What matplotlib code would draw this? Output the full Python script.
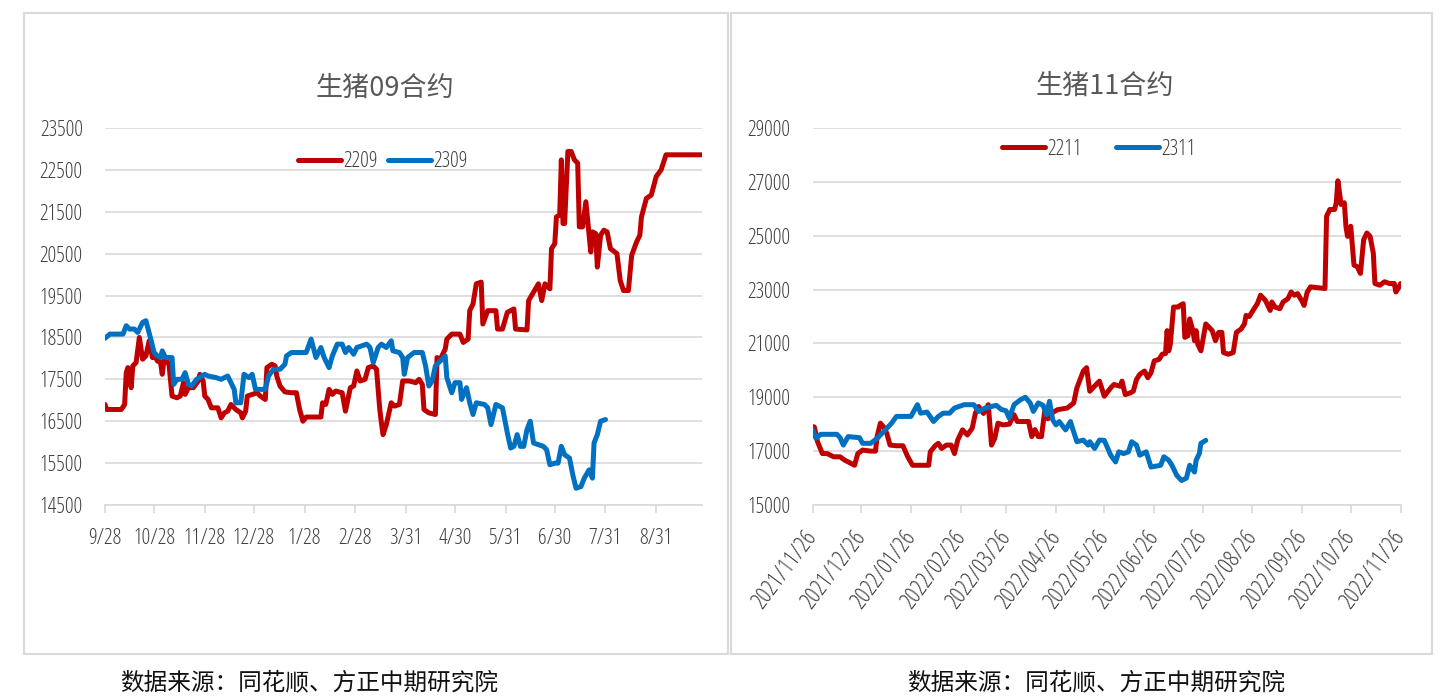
import pandas as pd
import matplotlib
matplotlib.use("Agg")
import matplotlib.pyplot as plt
from matplotlib.patches import Rectangle

plt.rcParams['font.family'] = ['Open Sans', 'Noto Sans CJK SC', 'DejaVu Sans']
plt.rcParams['font.stretch'] = 'condensed'

# ---- left chart: 生猪09合约, x = days after 2021-09-28 ----
start_09 = pd.Timestamp("2021-09-28")
pts_2209 = [(0, 16900), (1, 16780), (10, 16780), (12, 16900), (13, 17660), (14, 17780), (16, 17300),
            (17, 17820), (19, 17900), (21, 18500), (23, 17980), (25, 18060), (27, 18420), (29, 18020),
            (31, 18020), (32, 17940), (34, 17900), (35, 17620), (36, 17940), (38, 17900), (39, 17900),
            (41, 17100), (44, 17060), (46, 17100), (48, 17420), (49, 17140), (51, 17300), (54, 17300),
            (57, 17460), (58, 17620), (60, 17460), (61, 17100), (63, 17020), (65, 16820), (69, 16820),
            (71, 16580), (73, 16700), (75, 16740), (77, 16900), (80, 16780), (83, 16700), (84, 16580),
            (86, 16740), (87, 17100), (90, 17140), (93, 17180), (95, 17100), (98, 17020), (99, 17780),
            (102, 17860), (104, 17820), (105, 17580), (107, 17340), (110, 17200), (114, 17180),
            (117, 17180), (119, 16780), (121, 16500), (123, 16600), (132, 16600), (133, 16940),
            (135, 16900), (137, 17260), (139, 17140), (141, 17220), (145, 17180), (147, 16740),
            (150, 17300), (152, 17340), (154, 17700), (156, 17460), (159, 17500), (161, 17780),
            (164, 17820), (166, 17740), (168, 16780), (169, 16460), (170, 16180), (172, 16420),
            (175, 16940), (177, 16860), (180, 16900), (182, 17460), (186, 17460), (190, 17420),
            (192, 17500), (194, 17380), (195, 16780), (198, 16700), (202, 16660), (203, 18020),
            (205, 17980), (208, 18220), (209, 18460), (212, 18580), (217, 18580), (219, 18380),
            (222, 18460), (223, 19140), (225, 19300), (227, 19780), (230, 19820), (231, 18820),
            (234, 19140), (239, 19140), (240, 18700), (243, 18700), (246, 19100), (250, 19180),
            (251, 18700), (258, 18680), (259, 19380), (262, 19580), (265, 19780), (267, 19380),
            (269, 19780), (272, 19660), (273, 20620), (275, 20740), (276, 21380), (278, 21420),
            (279, 22740), (280, 21220), (281, 21220), (283, 22940), (285, 22940), (287, 22740),
            (289, 22660), (290, 21140), (292, 21140), (294, 21740), (297, 20540), (298, 21020),
            (300, 20980), (301, 20180), (303, 20940), (305, 21060), (307, 21020), (309, 20620),
            (313, 20500), (315, 19860), (317, 19620), (320, 19620), (322, 20460), (325, 20780),
            (327, 20940), (328, 21380), (331, 21820), (334, 21900), (337, 22340), (340, 22500),
            (343, 22860), (365, 22860)]
pts_2309 = [(0, 18480), (3, 18580), (11, 18580), (13, 18780), (15, 18700), (18, 18700), (20, 18620),
            (23, 18860), (25, 18900), (28, 18460), (30, 18140), (32, 18060), (34, 18020), (35, 18180),
            (37, 18020), (41, 18020), (42, 17380), (44, 17500), (47, 17500), (49, 17660), (51, 17380),
            (53, 17340), (56, 17500), (61, 17620), (63, 17580), (68, 17540), (71, 17500), (75, 17580),
            (79, 17260), (80, 16940), (83, 16940), (85, 17620), (88, 17540), (90, 17620), (92, 17260),
            (98, 17260), (100, 17580), (103, 17740), (107, 17740), (110, 17860), (111, 18060),
            (114, 18140), (123, 18140), (126, 18460), (129, 18020), (132, 18260), (134, 18020),
            (137, 17780), (139, 18060), (142, 18340), (145, 18340), (147, 18140), (149, 18260),
            (152, 18100), (154, 18260), (160, 18340), (162, 18260), (164, 17900), (167, 18260),
            (169, 18340), (172, 18260), (175, 18420), (176, 18180), (180, 18140), (182, 18020),
            (183, 17620), (185, 18020), (189, 18140), (194, 18140), (196, 17820), (198, 17340),
            (200, 17460), (202, 17820), (205, 17940), (208, 18060), (209, 17540), (212, 17180),
            (214, 17420), (217, 17420), (218, 17020), (221, 17300), (223, 16940), (225, 16660),
            (227, 16940), (232, 16900), (234, 16820), (236, 16420), (239, 16900), (241, 16860),
            (243, 16820), (246, 16220), (248, 15860), (250, 15900), (252, 16180), (254, 15900),
            (256, 15900), (258, 16300), (260, 16500), (262, 15980), (265, 15940), (268, 15900),
            (270, 15820), (272, 15460), (275, 15500), (277, 15500), (279, 15900), (281, 15700),
            (284, 15620), (286, 15220), (288, 14900), (291, 14940), (293, 15140), (296, 15340),
            (298, 15140), (299, 15980), (301, 16180), (303, 16500), (306, 16540)]
ticks_09 = ["2021-09-28", "2021-10-28", "2021-11-28", "2021-12-28", "2022-01-28", "2022-02-28",
            "2022-03-31", "2022-04-30", "2022-05-31", "2022-06-30", "2022-07-31", "2022-08-31"]
labels_09 = ["9/28", "10/28", "11/28", "12/28", "1/28", "2/28", "3/31", "4/30", "5/31", "6/30",
             "7/31", "8/31"]

# ---- right chart: 生猪11合约, x = days after 2021-11-26 ----
start_11 = pd.Timestamp("2021-11-26")
pts_2211 = [(0, 17910), (1, 17900), (3, 17350), (6, 16910), (9, 16910), (13, 16790), (17, 16790),
            (20, 16660), (24, 16540), (26, 16475), (28, 16910), (31, 17040), (36, 17000), (39, 17000),
            (40, 17540), (42, 18040), (44, 17900), (46, 17660), (48, 17225), (52, 17200), (56, 17200),
            (59, 16790), (62, 16475), (72, 16475), (73, 16975), (76, 17200), (78, 17290), (80, 17100),
            (83, 17225), (86, 17225), (88, 16910), (90, 17410), (93, 17790), (96, 17600), (99, 17850),
            (101, 18410), (103, 18660), (106, 18400), (109, 18725), (111, 17225), (113, 17475),
            (115, 18040), (118, 17975), (122, 18000), (125, 18350), (127, 18100), (134, 18100),
            (136, 17540), (138, 17800), (140, 17540), (142, 17540), (144, 18475), (146, 18200),
            (148, 18400), (152, 18540), (158, 18600), (162, 18790), (164, 19350), (168, 19975),
            (170, 20100), (172, 19225), (175, 19410), (178, 19600), (181, 19040), (185, 19350),
            (187, 19475), (191, 19410), (192, 19600), (194, 19100), (197, 19160), (199, 19225),
            (201, 19660), (203, 19850), (206, 19975), (208, 19725), (210, 19910), (212, 20350),
            (215, 20410), (217, 20600), (219, 20625), (220, 21475), (221, 20725), (222, 20975),
            (224, 22350), (227, 22350), (228, 22410), (230, 22475), (231, 21225), (233, 21290),
            (234, 21910), (236, 21475), (237, 21100), (238, 21475), (239, 20975), (241, 20725),
            (244, 21725), (246, 21600), (248, 21475), (250, 21100), (252, 21410), (254, 21410),
            (255, 20660), (258, 20600), (261, 20660), (263, 21410), (266, 21540), (268, 21725),
            (269, 22040), (271, 22000), (274, 22290), (276, 22475), (278, 22790), (281, 22600),
            (283, 22350), (284, 22225), (285, 22540), (287, 22350), (290, 22290), (292, 22540),
            (295, 22660), (297, 22910), (299, 22790), (301, 22850), (304, 22540), (305, 22410),
            (307, 22910), (309, 23100), (318, 23040), (319, 25725), (321, 25975), (324, 25975),
            (325, 26225), (326, 27040), (328, 26160), (330, 26225), (331, 25350), (332, 24975),
            (334, 25350), (336, 23910), (338, 23850), (340, 23600), (342, 24850), (344, 25100),
            (346, 24975), (348, 24350), (349, 23225), (352, 23160), (355, 23290), (358, 23225),
            (361, 23225), (362, 22910), (364, 23100), (365, 23225)]
pts_2311 = [(0, 17790), (2, 17475), (5, 17625), (15, 17625), (17, 17500), (19, 17225), (22, 17540),
            (29, 17500), (31, 17290), (36, 17290), (40, 17475), (44, 17725), (47, 17910), (49, 18040),
            (52, 18290), (61, 18290), (65, 18725), (67, 18410), (71, 18450), (75, 18100), (78, 18290),
            (81, 18410), (85, 18410), (88, 18600), (94, 18725), (100, 18725), (103, 18475),
            (107, 18600), (114, 18700), (117, 18550), (120, 18500), (122, 18225), (125, 18725),
            (129, 18910), (132, 19000), (135, 18790), (137, 18475), (140, 18790), (143, 18700),
            (145, 18350), (147, 18850), (149, 18160), (151, 17975), (153, 18100), (157, 17790),
            (160, 18100), (161, 17900), (164, 17350), (168, 17410), (171, 17225), (172, 17350),
            (175, 17100), (178, 17410), (181, 17400), (185, 16850), (188, 16600), (190, 16975),
            (193, 16910), (196, 16975), (198, 17350), (201, 17225), (203, 16850), (207, 16975),
            (210, 16410), (216, 16475), (218, 16790), (221, 16660), (223, 16475), (226, 16100),
            (229, 15910), (232, 16000), (234, 16475), (237, 16225), (238, 16660), (240, 16910),
            (241, 17290), (244, 17400)]
ticks_11 = ["2021-11-26", "2021-12-26", "2022-01-26", "2022-02-26", "2022-03-26", "2022-04-26",
            "2022-05-26", "2022-06-26", "2022-07-26", "2022-08-26", "2022-09-26", "2022-10-26",
            "2022-11-26"]
labels_11 = [t.replace("-", "/") for t in ticks_11]

source = "数据来源：同花顺、方正中期研究院"
RED, BLUE = "#C00000", "#0070C0"
GREY, TXT = "#D9D9D9", "#404040"

W, H = 1454, 700
fig = plt.figure(figsize=(W / 100, H / 100), dpi=100)


def box(x0, y0, x1, y1):
    # pixel box (top-left origin) -> figure fraction
    return [x0 / W, 1 - y1 / H, (x1 - x0) / W, (y1 - y0) / H]


def draw(ax, start, series, ticks, labels, ylim, ystep):
    for name, pts, col in series:
        d, v = zip(*pts)
        x = start + pd.to_timedelta(list(d), unit="D")
        ax.plot(x, v, color=col, lw=3.6, label=name,
                solid_joinstyle="round", solid_capstyle="round")
    ax.set_xlim(start, start + pd.Timedelta(days=365))
    ax.set_ylim(*ylim)
    ax.set_yticks(range(ylim[0], ylim[1] + 1, ystep))
    ax.set_xticks(pd.to_datetime(ticks))
    ax.set_xticklabels(labels)
    ax.grid(axis="y", color=GREY, lw=1.2)
    ax.set_axisbelow(True)
    for s in ["top", "right", "left"]:
        ax.spines[s].set_visible(False)
    ax.spines["bottom"].set_color(GREY)
    ax.spines["bottom"].set_linewidth(1.2)
    ax.tick_params(axis="y", length=0, pad=16, labelsize=15.5, labelcolor=TXT)
    ax.tick_params(axis="x", length=5.5, width=1.2, color=GREY, labelsize=15.5, labelcolor=TXT)


ax1 = fig.add_axes(box(105, 128, 702, 505))
draw(ax1, start_09, [("2209", pts_2209, RED), ("2309", pts_2309, BLUE)],
     ticks_09, labels_09, (14500, 23500), 1000)
ax1.tick_params(axis="x", pad=11)
ax1.legend(loc="center", bbox_to_anchor=(0.465, 0.91), ncol=2, frameon=False, fontsize=15.5,
           handlelength=2.0, handletextpad=0.1, columnspacing=0.5, labelcolor=TXT)

ax2 = fig.add_axes(box(812.7, 128, 1400.7, 505))
draw(ax2, start_11, [("2211", pts_2211, RED), ("2311", pts_2311, BLUE)],
     ticks_11, labels_11, (15000, 29000), 2000)
ax2.tick_params(axis="x", pad=15, labelsize=17)
for lab in ax2.get_xticklabels():
    lab.set_rotation(53)
    lab.set_ha("right")
    lab.set_va("center")
    lab.set_rotation_mode("anchor")
ax2.legend(loc="center", bbox_to_anchor=(0.486, 0.944), ncol=2, frameon=False, fontsize=15.5,
           handlelength=2.0, handletextpad=0.1, columnspacing=1.6, labelcolor=TXT)

# panel frames
for x0, x1 in [(24, 728), (731, 1432)]:
    fig.add_artist(Rectangle((x0 / W, 1 - 654 / H), (x1 - x0) / W, (654 - 12.7) / H,
                             transform=fig.transFigure, fill=False, edgecolor=GREY, lw=1.5))

cjk = ["Noto Sans CJK SC", "DejaVu Sans"]
fig.text(385 / W, 1 - 88 / H, "生猪09合约", ha="center", va="center", fontsize=19.5,
         color="#595959", family=cjk, stretch="normal")
fig.text(1105 / W, 1 - 86 / H, "生猪11合约", ha="center", va="center", fontsize=19.5,
         color="#595959", family=cjk, stretch="normal")
fig.text(309 / W, 1 - 683 / H, source, ha="center", va="center", fontsize=17,
         color="#111111", family=cjk, stretch="normal")
fig.text(1096 / W, 1 - 683 / H, source, ha="center", va="center", fontsize=17,
         color="#111111", family=cjk, stretch="normal")

fig.savefig("out.png", dpi=100)
